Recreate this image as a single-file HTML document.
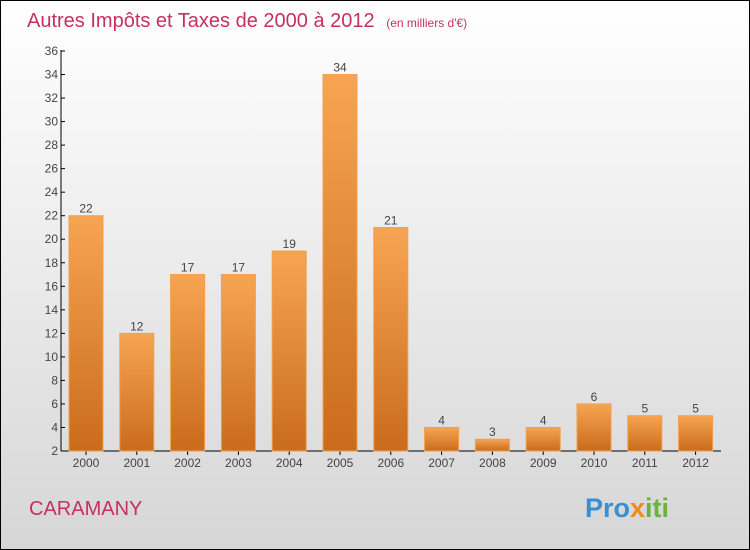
<!DOCTYPE html>
<html><head><meta charset="utf-8"><style>
body{margin:0}
#c{width:748px;height:548px;border:1px solid #000;background:linear-gradient(#fff,#d6d6d6);position:relative;font-family:"Liberation Sans",sans-serif}
</style></head><body>
<div id="c">
<svg id="s" width="748" height="548" style="position:absolute;left:0;top:0">
<defs><linearGradient id="g" x1="0" y1="0" x2="0" y2="1"><stop offset="0" stop-color="#f7a552"/><stop offset="1" stop-color="#c96c1c"/></linearGradient></defs>
<text x="26" y="26" font-size="20" fill="#c8305f">Autres Impôts et Taxes de 2000 à 2012 <tspan font-size="12" dx="6">(en milliers d'€)</tspan></text>
<text x="28" y="514" font-size="20" fill="#c8305f">CARAMANY</text>
<text x="584" y="516" font-size="27" font-weight="bold" fill="#3a8fd0">Pro<tspan fill="#f08a1a">x</tspan><tspan fill="#6bb33a">iti</tspan></text>
<g id="ax"></g><g id="bars"></g>
</svg></div>
<script>
const years=["2000","2001","2002","2003","2004","2005","2006","2007","2008","2009","2010","2011","2012"];
const values=[22,12,17,17,19,34,21,4,3,4,6,5,5];
const yTicks=[2,4,6,8,10,12,14,16,18,20,22,24,26,28,30,32,34,36];
const NS="http://www.w3.org/2000/svg";
const y=v=>450-(v-2)*400/34, x=i=>85+i*50.8;
function mk(t,a,p){const e=document.createElementNS(NS,t);for(const k in a)e.setAttribute(k,a[k]);p.appendChild(e);return e;}
const ax=document.getElementById('ax'),bs=document.getElementById('bars');
const yl=mk('line',{x1:60,y1:49,x2:60,y2:450,stroke:'#000'},ax);


const xl=mk('line',{x1:60,y1:450,x2:720,y2:450,stroke:'#000'},ax);


yTicks.forEach(v=>{mk('line',{x1:60,x2:64,y1:y(v),y2:y(v),stroke:'#000'},ax);
const t=mk('text',{x:57,y:y(v)+4,'font-size':12,fill:'#444','text-anchor':'end'},ax);t.textContent=v;

});
years.forEach((yr,i)=>{const r=mk('rect',{x:x(i)-17,y:y(values[i]),width:34,height:450-y(values[i]),fill:'url(#g)',stroke:'#f0a050','stroke-width':1},bs);


mk('line',{x1:x(i),x2:x(i),y1:450,y2:454,stroke:'#000'},ax);
const t=mk('text',{x:x(i),y:466,'font-size':12,fill:'#444','text-anchor':'middle'},ax);t.textContent=yr;


const l=mk('text',{x:x(i),y:y(values[i])-3,'font-size':12,fill:'#444','text-anchor':'middle'},bs);l.textContent=values[i];

});
</script></body></html>
